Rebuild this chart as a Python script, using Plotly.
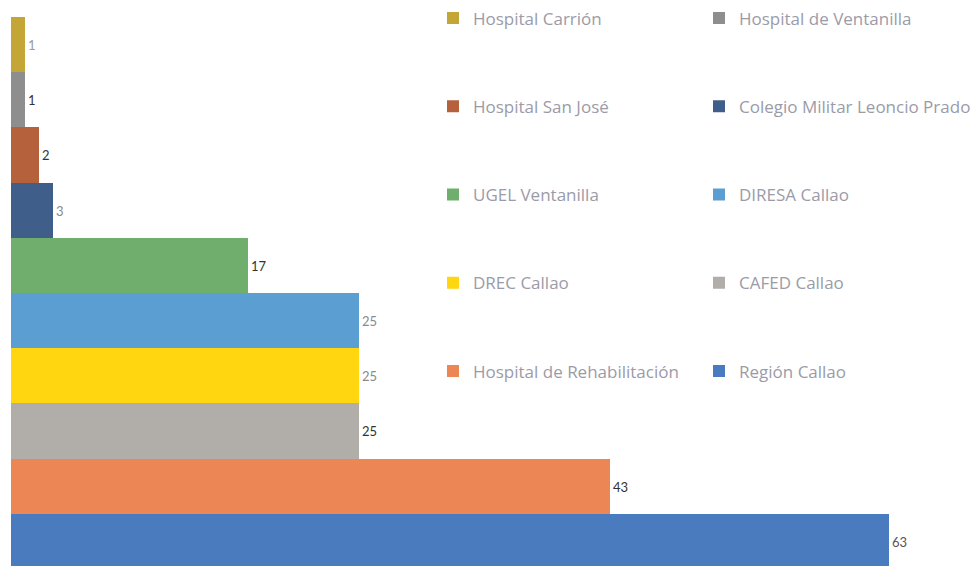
import plotly.graph_objects as go

# Data (top to bottom as drawn)
categories = [
    "Hospital Carrión", "Hospital de Ventanilla", "Hospital San José",
    "Colegio Militar Leoncio Prado", "UGEL Ventanilla", "DIRESA Callao",
    "DREC Callao", "CAFED Callao", "Hospital de Rehabilitación", "Región Callao",
]
values = [1, 1, 2, 3, 17, 25, 25, 25, 43, 63]
colors = ["#c4a636", "#8e8e8e", "#b5613c", "#3f5f8a", "#6fae6c", "#5b9fd2",
          "#ffd60f", "#b1aeaa", "#ec8654", "#4a7bbf"]
label_colors = ["#9a9a9a", "#333333", "#333333", "#8a8a8a", "#333333", "#8a8a8a",
                "#8a8a8a", "#333333", "#333333", "#555555"]

fig = go.Figure()
for i, (cat, val, col, lc) in enumerate(zip(categories, values, colors, label_colors)):
    fig.add_trace(go.Bar(
        x=[val], y=[cat], orientation="h", name=cat,
        marker=dict(color=col, line=dict(width=0)),
        width=1,
        text=[str(val)], textposition="outside",
        textfont=dict(family="Lato", size=13, color=lc),
        cliponaxis=False,
        legend="legend" if i % 2 == 0 else "legend2",
        legendgroup=cat,
        hoverinfo="skip",
    ))

legend_font = dict(family="Open Sans", size=17, color="#9b9ba8")
common = dict(yanchor="top", xanchor="left", orientation="v", tracegroupgap=63.1,
              font=legend_font, bgcolor="rgba(0,0,0,0)", maxheight=700,
              itemclick=False, itemdoubleclick=False)
fig.update_layout(
    width=976, height=566,
    margin=dict(l=11, r=0, t=17, b=0),
    paper_bgcolor="white", plot_bgcolor="white",
    barmode="overlay",
    bargap=0,
    showlegend=True,
    xaxis=dict(range=[0, 69.2], visible=False, fixedrange=True),
    yaxis=dict(categoryorder="array", categoryarray=categories[::-1],
               range=[-0.446, 9.5], visible=False, fixedrange=True),
    legend=dict(x=0.4373, y=1.030, **common),
    legend2=dict(x=0.714, y=1.030, **common),
)

fig.write_html("out.html", config={"displayModeBar": False},
               post_script="document.body.style.margin='0';")
